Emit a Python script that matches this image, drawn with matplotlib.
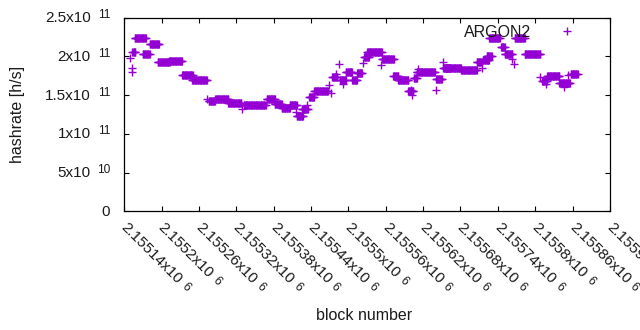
import numpy as np
import matplotlib
matplotlib.use("Agg")
import matplotlib.pyplot as plt
import matplotlib.transforms as mtransforms
from matplotlib.lines import Line2D
from matplotlib.textpath import TextPath
from matplotlib.font_manager import FontProperties

plt.rcParams['font.family'] = ['Liberation Sans', 'DejaVu Sans']

# Runs of blocks sharing the same hashrate estimate (start block, end block, value in h/s)
run_start = [2155150, 2155152, 2155152, 2155153, 2155157, 2155170, 2155181, 2155194,
             2155212, 2155233, 2155249, 2155273, 2155276, 2155286, 2155307, 2155330,
             2155332, 2155369, 2155382, 2155393, 2155406, 2155416, 2155417, 2155425,
             2155434, 2155437, 2155445, 2155469, 2155472, 2155474, 2155480, 2155485,
             2155487, 2155492, 2155496, 2155506, 2155514, 2155523, 2155525, 2155530,
             2155552, 2155554, 2155572, 2155580, 2155596, 2155600, 2155602, 2155605,
             2155610, 2155612, 2155640, 2155641, 2155652, 2155652, 2155655, 2155681,
             2155706, 2155714, 2155716, 2155722, 2155726, 2155745, 2155751, 2155763,
             2155766, 2155767, 2155783, 2155808, 2155811, 2155817, 2155819, 2155839,
             2155846, 2155852, 2155857]
run_end = [2155150, 2155152, 2155152, 2155158, 2155175, 2155181, 2155196, 2155213,
           2155233, 2155250, 2155273, 2155273, 2155286, 2155307, 2155328, 2155330,
           2155367, 2155382, 2155393, 2155406, 2155417, 2155416, 2155427, 2155435,
           2155434, 2155445, 2155467, 2155469, 2155472, 2155482, 2155480, 2155485,
           2155496, 2155492, 2155506, 2155514, 2155522, 2155523, 2155533, 2155554,
           2155552, 2155573, 2155580, 2155596, 2155604, 2155600, 2155602, 2155610,
           2155639, 2155612, 2155640, 2155650, 2155652, 2155663, 2155681, 2155706,
           2155714, 2155714, 2155726, 2155730, 2155743, 2155751, 2155763, 2155763,
           2155766, 2155783, 2155808, 2155808, 2155819, 2155817, 2155839, 2155856,
           2155846, 2155852, 2155868]
run_value = [197.5e9, 185.4e9, 180.2e9, 205.7e9, 223.4e9, 202.7e9, 215.6e9, 192.4e9,
             194.1e9, 175.6e9, 169.1e9, 145.0e9, 142.0e9, 145.6e9, 139.3e9, 132.0e9,
             137.9e9, 144.7e9, 138.1e9, 134.0e9, 136.8e9, 127.8e9, 123.6e9, 132.0e9,
             137.2e9, 147.5e9, 154.9e9, 163.1e9, 152.3e9, 173.4e9, 176.9e9, 189.8e9,
             169.5e9, 164.0e9, 180.2e9, 169.5e9, 178.2e9, 191.9e9, 199.6e9, 205.4e9,
             188.9e9, 196.3e9, 174.7e9, 169.5e9, 154.9e9, 156.6e9, 150.1e9, 172.1e9,
             179.5e9, 183.7e9, 156.6e9, 170.8e9, 192.4e9, 185.0e9, 184.6e9, 182.8e9,
             192.8e9, 184.6e9, 196.0e9, 200.5e9, 223.4e9, 211.8e9, 203.1e9, 196.3e9,
             189.8e9, 223.4e9, 203.5e9, 173.0e9, 168.2e9, 164.3e9, 175.1e9, 165.2e9,
             160.9e9, 176.0e9, 176.9e9]

x_ticks = [2155140, 2155200, 2155260, 2155320, 2155380, 2155440, 2155500,
           2155560, 2155620, 2155680, 2155740, 2155800, 2155860, 2155920]
x_tick_main = ["2.15514x10", "2.1552x10", "2.15526x10", "2.15532x10", "2.15538x10",
               "2.15544x10", "2.1555x10", "2.15556x10", "2.15562x10", "2.15568x10",
               "2.15574x10", "2.1558x10", "2.15586x10", "2.15592x10"]
x_tick_exp = "6"
y_ticks = [0, 5e10, 1e11, 1.5e11, 2e11, 2.5e11]
y_tick_main = ["0", "5x10", "1x10", "1.5x10", "2x10", "2.5x10"]
y_tick_exp = ["", "10", "11", "11", "11", "11"]

blocks = []
rates = []
for s, e, v in zip(run_start, run_end, run_value):
    for b in range(s, e + 1):
        blocks.append(b)
        rates.append(v)

color = '#9400D3'
txtc = '#1a1a1a'
fs = 11.0
efs = 8.6
PX = 0.72  # points per pixel at 100 dpi

fig = plt.figure(figsize=(6.4, 3.3), dpi=100)
ax = fig.add_axes([0.194, 0.36, 0.759, 0.586])
ax.plot(blocks, rates, linestyle='none', marker='+', markersize=6.0,
        markeredgewidth=1.0, color=color)

ax.set_xlim(2155140, 2155920)
ax.set_ylim(0, 2.5e11)
ax.set_xticks(x_ticks)
ax.set_yticks(y_ticks)
ax.set_xticklabels([])
ax.set_yticklabels([])
ax.tick_params(direction='in', length=3.5, width=0.8, top=True, right=True,
               colors='black')
for sp in ax.spines.values():
    sp.set_linewidth(0.9)

# y tick labels: mantissa + raised exponent
ytr = mtransforms.blended_transform_factory(ax.transAxes, ax.transData)
for v, m, e in zip(y_ticks, y_tick_main, y_tick_exp):
    if e:
        ax.annotate(m, (0, v), xycoords=ytr, xytext=(-33.5 * PX, -0.5 * PX),
                    textcoords='offset points', ha='right', va='center',
                    fontsize=fs, color=txtc)
        ax.annotate(e, (0, v), xycoords=ytr, xytext=(-14 * PX, 2.5 * PX),
                    textcoords='offset points', ha='right', va='center',
                    fontsize=efs, color=txtc)
    else:
        ax.annotate(m, (0, v), xycoords=ytr, xytext=(-14 * PX, -0.5 * PX),
                    textcoords='offset points', ha='right', va='center',
                    fontsize=fs, color=txtc)

# x tick labels: rotated -45 deg, mantissa + raised exponent
xtr = mtransforms.blended_transform_factory(ax.transData, ax.transAxes)
fp = FontProperties(family='Liberation Sans', size=fs)
c = np.cos(np.radians(-45))
s_ = np.sin(np.radians(-45))
ox, oy = 4 * PX, -9 * PX
for t, m in zip(x_ticks, x_tick_main):
    ax.annotate(m, (t, 0), xycoords=xtr, xytext=(ox, oy), textcoords='offset points',
                ha='left', va='top', rotation=-45, rotation_mode='anchor',
                fontsize=fs, color=txtc, annotation_clip=False)
    w = TextPath((0, 0), m, prop=fp).get_extents().x1 + 4.0
    u, vv = w, -0.5
    ex = ox + u * c - vv * s_
    ey = oy + u * s_ + vv * c
    ax.annotate(x_tick_exp, (t, 0), xycoords=xtr, xytext=(ex, ey),
                textcoords='offset points', ha='left', va='top', rotation=-45,
                rotation_mode='anchor', fontsize=efs, color=txtc,
                annotation_clip=False)

ax.set_ylabel("hashrate [h/s]", fontsize=11.5, color=txtc)
ax.set_xlabel("block number", fontsize=11.5, color=txtc)
ax.xaxis.set_label_coords(0.4936, -0.50)
ax.yaxis.set_label_coords(-0.205, 0.5)

handle = Line2D([], [], linestyle='none', marker='+', markersize=6.0,
                markeredgewidth=1.0, color=color)
ax.legend([handle], ["ARGON2"], loc='upper right', bbox_to_anchor=(0.944, 0.963),
          frameon=False, markerfirst=False, fontsize=11.5, borderpad=0,
          borderaxespad=0, handlelength=2, handletextpad=1.23,
          labelcolor=txtc)

fig.savefig("out.png", dpi=100)
